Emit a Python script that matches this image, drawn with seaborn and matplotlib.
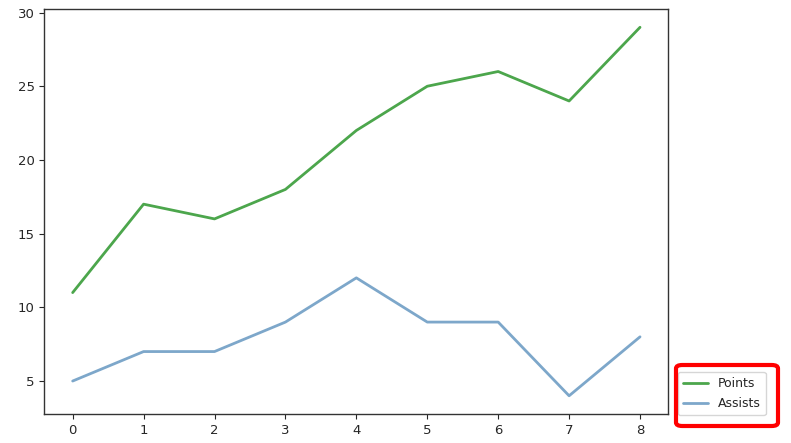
import matplotlib
matplotlib.use("Agg")
import matplotlib.pyplot as plt
from matplotlib.patches import FancyBboxPatch
import seaborn as sns
import pandas as pd

x = [0, 1, 2, 3, 4, 5, 6, 7, 8]
points = [11, 17, 16, 18, 22, 25, 26, 24, 29]
assists = [5, 7, 7, 9, 12, 9, 9, 4, 8]

df = pd.DataFrame({"x": x, "Points": points, "Assists": assists})

sns.set_style("ticks")
plt.rcParams['font.family'] = ['DejaVu Sans']
fig = plt.figure(figsize=(7.91, 4.43), dpi=100)
ax = fig.add_axes([0.056, 0.065, 0.789, 0.915])

sns.lineplot(data=df, x="x", y="Points", ax=ax, color="green", alpha=0.7, linewidth=2, label="Points")
sns.lineplot(data=df, x="x", y="Assists", ax=ax, color="steelblue", alpha=0.7, linewidth=2, label="Assists")
ax.set_xlabel("")
ax.set_ylabel("")
ax.set_xticks(x)
ax.tick_params(labelsize=9.5)
for s in ax.spines.values():
    s.set_color("#333333")
    s.set_linewidth(1)

leg = ax.legend(loc="lower left", bbox_to_anchor=(1.015, -0.003), borderaxespad=0,
                fontsize=9, frameon=True, handlelength=2.0, labelspacing=0.6)

rect = FancyBboxPatch((676/791, 1 - 426/443), 102/791, 61/443,
                      boxstyle="round,pad=0,rounding_size=0.008",
                      transform=fig.transFigure, fill=False,
                      edgecolor="red", linewidth=3)
fig.patches.append(rect)

fig.savefig("out.png", dpi=100)
